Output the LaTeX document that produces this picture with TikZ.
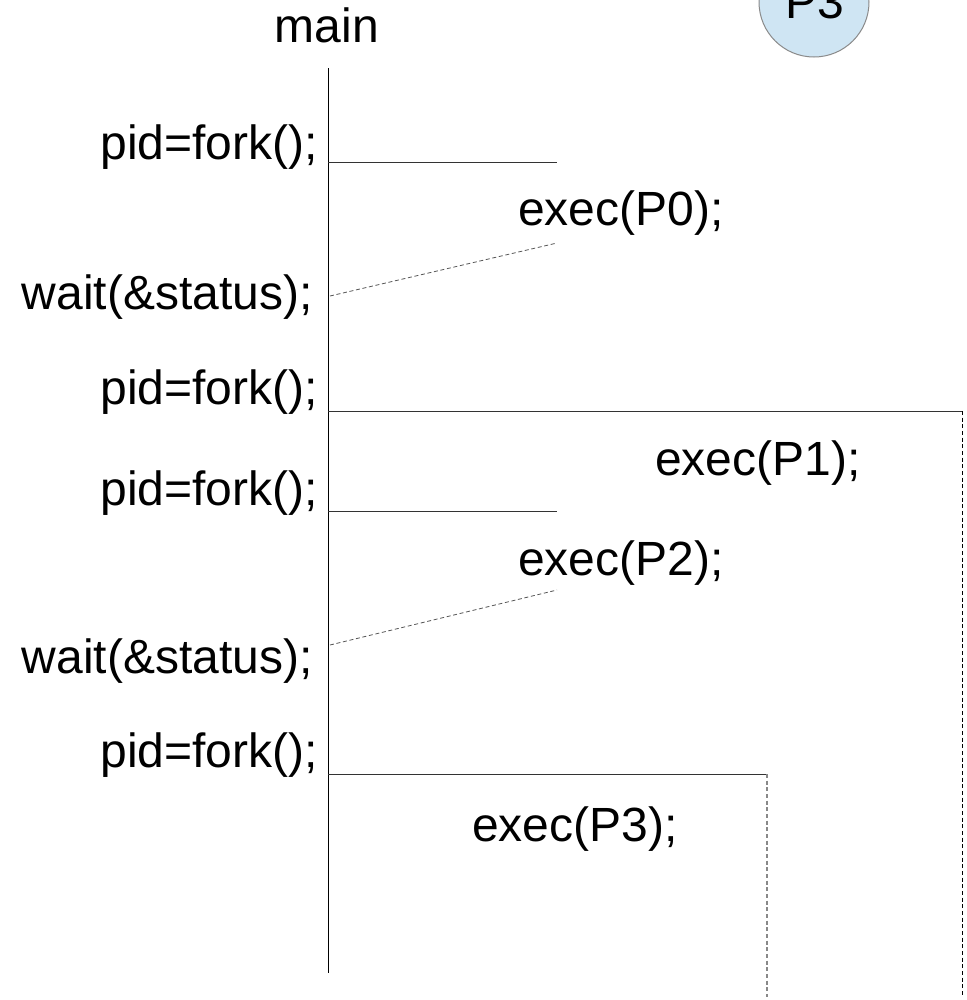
\documentclass[tikz,border=0pt]{standalone}
\usepackage{fontspec}
\setmainfont{Liberation Sans}
\definecolor{procfill}{HTML}{CFE5F3}
\definecolor{procedge}{HTML}{8A8A8A}
\definecolor{forkline}{HTML}{333333}
\definecolor{waitline}{HTML}{555555}
\definecolor{childgray}{HTML}{888888}
\begin{document}
\begin{tikzpicture}[x=0.75pt,y=-0.75pt,
  lbl/.style={font=\fontsize{36}{43}\selectfont, inner sep=0pt},
  timeline/.style={line width=0.75pt, black},
  forkedge/.style={line width=0.75pt, forkline},
  waitedge/.style={line width=0.6pt, waitline, dash pattern=on 3pt off 2pt},
  childA/.style={line width=0.75pt, black, dash pattern=on 3pt off 2pt},
  childB/.style={line width=1.1pt, childgray, dash pattern=on 3pt off 2pt}]
\useasboundingbox (0,0) rectangle (967,1000);

% process bubble in the corner
\node[circle, draw=procedge, fill=procfill, line width=0.75pt,
      minimum size=110*0.75pt, inner sep=0pt] (p3c) at (814,2) {};
\node[lbl, anchor=base] (p3t) at (815,18) {P3};

% main timeline
\node[lbl, anchor=base] (main) at (327,42) {main};
\coordinate (mtop) at (328,68);
\coordinate (mbot) at (328,973);
\draw[timeline] (mtop) -- (mbot);

% statements along main
\node[lbl, anchor=base east] (fork1) at (318,159) {pid=fork();};
\node[lbl, anchor=base east] (wait1) at (313,309) {wait(\&status);};
\node[lbl, anchor=base east] (fork2) at (318,404) {pid=fork();};
\node[lbl, anchor=base east] (fork3) at (318,505) {pid=fork();};
\node[lbl, anchor=base east] (wait2) at (313,673) {wait(\&status);};
\node[lbl, anchor=base east] (fork4) at (318,767) {pid=fork();};

% children
\node[lbl, anchor=base west] (exec0) at (518,225) {exec(P0);};
\node[lbl, anchor=base west] (exec1) at (655,475) {exec(P1);};
\node[lbl, anchor=base west] (exec2) at (518,575) {exec(P2);};
\node[lbl, anchor=base west] (exec3) at (472,841) {exec(P3);};

% fork branches
\coordinate (f1a) at (328,162);  \coordinate (f1b) at (557,162);
\coordinate (f2a) at (328,411);  \coordinate (f2b) at (962,411);
\coordinate (f3a) at (328,511);  \coordinate (f3b) at (557,511);
\coordinate (f4a) at (328,774);  \coordinate (f4b) at (767,774);
\coordinate (c1end) at (962,997);
\coordinate (c3end) at (767,997);
\draw[forkedge] (f1a) -- (f1b);
\draw[forkedge] (f2a) -- (f2b);
\draw[forkedge] (f3a) -- (f3b);
\draw[forkedge] (f4a) -- (f4b);

% children that keep running
\draw[childA] (f2b) -- (c1end);
\draw[childB] (f4b) -- (c3end);

% children reaped by wait
\coordinate (w1a) at (330,296);  \coordinate (w1b) at (557,243);
\coordinate (w2a) at (330,645);  \coordinate (w2b) at (557,590);
\draw[waitedge] (w1a) -- (w1b);
\draw[waitedge] (w2a) -- (w2b);
\end{tikzpicture}
\end{document}
